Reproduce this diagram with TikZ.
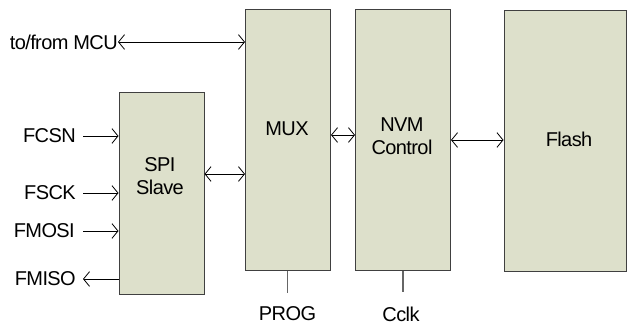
\documentclass[tikz,border=0pt]{standalone}
\usepackage{fontspec}
\setmainfont[LetterSpace=-3]{Liberation Sans}
\usetikzlibrary{arrows.meta}

\tikzset{
  block/.style={draw=black!75, line width=0.75pt, fill=blockfill, inner sep=0pt},
  sig/.style={line width=0.6pt, {Straight Barb[length=4.5pt,width=11pt]}-{Straight Barb[length=4.5pt,width=11pt]}},
  pin/.style={inner sep=0pt, font=\fontsize{15}{17.5}\selectfont},
  tick/.style={draw=black!60, line width=1.2pt}
}
\definecolor{blockfill}{RGB}{221,224,203}

\begin{document}
\begin{tikzpicture}[x=0.75pt, y=-0.75pt]
  \useasboundingbox (0,0) rectangle (627,324);
  % -=-=-=-=- BLOCKS -=-=-=-=-
  \node[block, minimum width=63.75pt, minimum height=150.75pt] (spi) at (161.5,193.5) {};
  \node[block, minimum width=63.75pt, minimum height=196pt] (mux) at (288,140.25) {};
  \node[block, minimum width=71.25pt, minimum height=196pt] (nvm) at (403,140.25) {};
  \node[block, minimum width=91.5pt, minimum height=195pt] (flash) at (565,141) {};
  % block texts
  \node[pin, align=center] (spitxt) at (160,176) {SPI\\Slave};
  \node[pin] (muxtxt) at (287,129) {MUX};
  \node[pin, align=center] (nvmtxt) at (402,136) {NVM\\Control};
  \node[pin] (flashtxt) at (569,139) {Flash};
  % -=-=-=-=- PINS -=-=-=-=-
  \node[pin, anchor=east] (mcu) at (118,42) {to/from MCU};
  \node[pin, anchor=east] (fcsn) at (76,136) {FCSN};
  \node[pin, anchor=east] (fsck) at (76,193) {FSCK};
  \node[pin, anchor=east] (fmosi) at (75,231) {FMOSI};
  \node[pin, anchor=east] (fmiso) at (76,279) {FMISO};
  \node[pin] (prog) at (287.5,314) {PROG};
  \node[pin] (cclk) at (401,314) {Cclk};
  % -=-=-=-=- CONNECTIONS -=-=-=-=-
  \draw[sig] (mcu.east) -- (mcu.east -| mux.west);
  \draw[sig, -{Straight Barb[length=4.5pt,width=11pt]}] ([xshift=5.25pt]fcsn.east) -- (fcsn.east -| spi.west);
  \draw[sig, -{Straight Barb[length=4.5pt,width=11pt]}] ([xshift=5.25pt]fsck.east) -- (fsck.east -| spi.west);
  \draw[sig, -{Straight Barb[length=4.5pt,width=11pt]}] ([xshift=6pt]fmosi.east) -- (fmosi.east -| spi.west);
  \draw[sig, {Straight Barb[length=4.5pt,width=11pt]}-] ([xshift=5.25pt]fmiso.east) -- (fmiso.east -| spi.west);
  \draw[sig] (spi.east |- 0,174) -- (mux.west |- 0,174);
  \draw[sig] (mux.east |- 0,135) -- (nvm.west |- 0,135);
  \draw[sig] (nvm.east |- 0,140) -- (flash.west |- 0,140);
  \draw[tick] (mux.south -| prog) -- ++(0,22);
  \draw[tick] (nvm.south) -- ++(0,21);
\end{tikzpicture}
\end{document}
